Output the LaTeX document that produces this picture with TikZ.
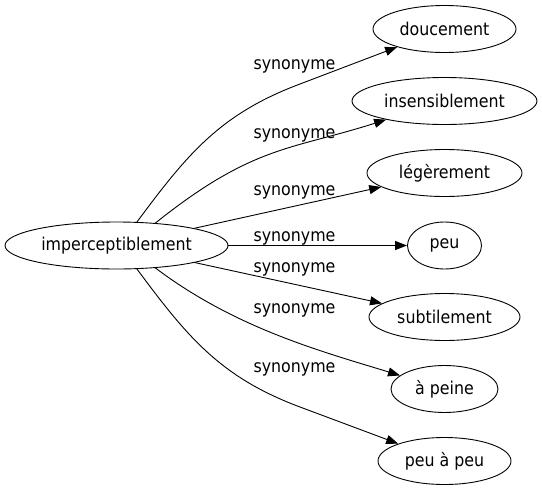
\documentclass[tikz,border=0pt]{standalone}
\usepackage{fontspec}
\setmainfont{DejaVu Sans Condensed}
\usetikzlibrary{shapes.geometric,arrows.meta}
\begin{document}
\begin{tikzpicture}[x=1pt,y=-1pt,
  nd/.style={draw,ellipse,inner sep=0pt,minimum height=47pt,line width=0.9pt,font=\fontsize{17.6}{20}\selectfont},
  lbl/.style={anchor=base,inner sep=0pt,font=\fontsize{17.6}{20}\selectfont},
  conn/.style={draw,line width=0.9pt,-{Triangle[length=12pt,width=9pt]}}]
\useasboundingbox (0,0) rectangle (542,491);
\node[nd,minimum width=223pt] (m) at (116.5,245.5) {imperceptiblement};
\node[nd,minimum width=143pt] (d) at (444.5,29) {doucement};
\node[nd,minimum width=185pt] (i) at (444.5,101) {insensiblement};
\node[nd,minimum width=155pt] (l) at (444.5,173) {légèrement};
\node[nd,minimum width=74pt] (p) at (444.5,245.5) {peu};
\node[nd,minimum width=151pt] (s) at (444.5,317) {subtilement};
\node[nd,minimum width=107pt] (a) at (444.5,389) {à peine};
\node[nd,minimum width=133pt] (pp) at (444.5,461) {peu à peu};
\coordinate (kd) at (300,84);
\coordinate (kp) at (300,407);
\draw[conn] (m.49) .. controls (187.6,153.7) and (220.4,113.8) .. (kd) -- (d);
\draw[conn] (m.30) .. controls (253,145) and (291,150) .. (i);
\draw[conn] (m) -- (l);
\draw[conn] (m) -- (p);
\draw[conn] (m) -- (s);
\draw[conn] (m.-30) .. controls (235,328) and (320,351) .. (a);
\draw[conn] (m.-49) .. controls (187.6,337.3) and (220.4,377.2) .. (kp) -- (pp);
\node[lbl] (l1) at (294.5,69.5) {synonyme};
\node[lbl] (l2) at (294.5,138) {synonyme};
\node[lbl] (l3) at (294.5,195) {synonyme};
\node[lbl] (l4) at (294.5,241) {synonyme};
\node[lbl] (l5) at (294.5,272) {synonyme};
\node[lbl] (l6) at (294.5,313) {synonyme};
\node[lbl] (l7) at (294.5,372) {synonyme};
\end{tikzpicture}
\end{document}
